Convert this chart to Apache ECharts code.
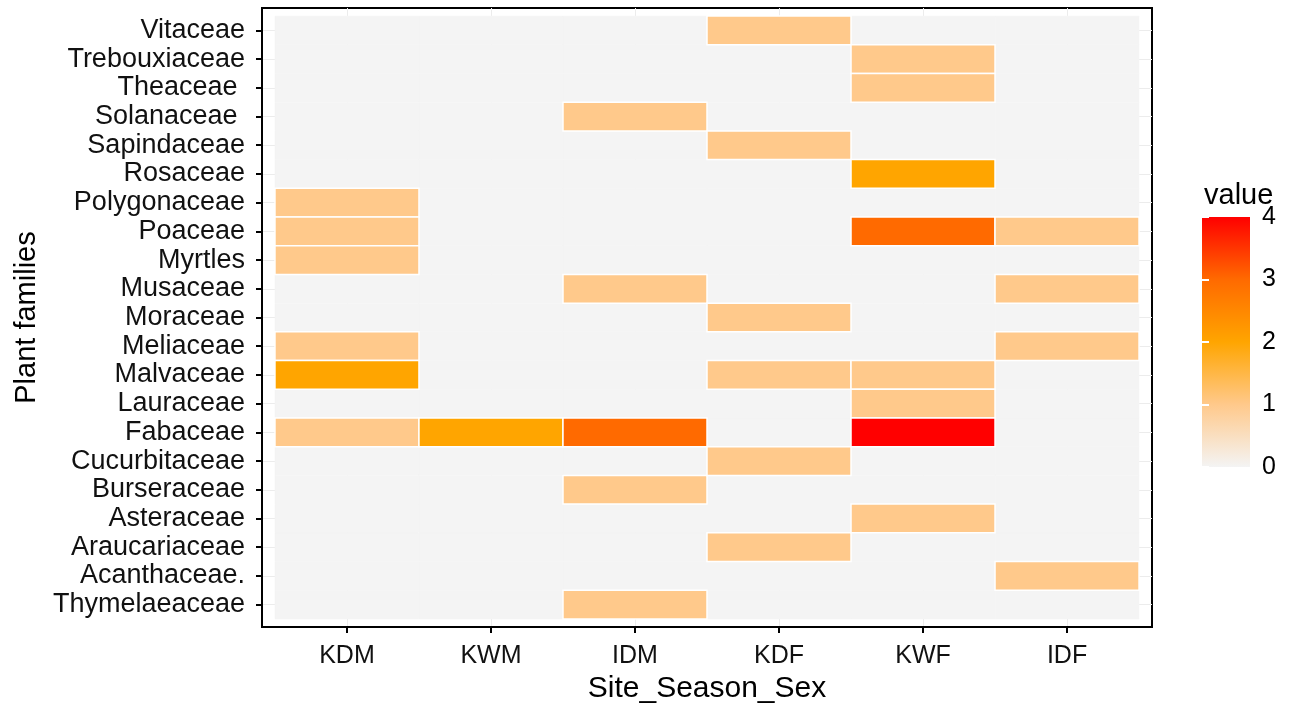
<!DOCTYPE html>
<html>
<head>
<meta charset="utf-8">
<script src="https://cdn.jsdelivr.net/npm/echarts@6/dist/echarts.min.js"></script>
<style>
html,body{margin:0;padding:0;background:#fff;}
#chart{width:1294px;height:709px;}
</style>
</head>
<body>
<div id="chart"></div>
<script>
// Data (rows listed top to bottom)
const sites = ['KDM', 'KWM', 'IDM', 'KDF', 'KWF', 'IDF'];
const families = ['Vitaceae', 'Trebouxiaceae', 'Theaceae ', 'Solanaceae ', 'Sapindaceae', 'Rosaceae',
  'Polygonaceae', 'Poaceae', 'Myrtles', 'Musaceae', 'Moraceae', 'Meliaceae', 'Malvaceae', 'Lauraceae',
  'Fabaceae', 'Cucurbitaceae', 'Burseraceae', 'Asteraceae', 'Araucariaceae', 'Acanthaceae.', 'Thymelaeaceae'];
const KDM = [0,0,0,0,0,0,1,1,1,0,0,1,2,0,1,0,0,0,0,0,0];
const KWM = [0,0,0,0,0,0,0,0,0,0,0,0,0,0,2,0,0,0,0,0,0];
const IDM = [0,0,0,1,0,0,0,0,0,1,0,0,0,0,3,0,1,0,0,0,1];
const KDF = [1,0,0,0,1,0,0,0,0,0,1,0,1,0,0,1,0,0,1,0,0];
const KWF = [0,1,1,0,0,2,0,3,0,0,0,0,1,1,4,0,0,1,0,0,0];
const IDF = [0,0,0,0,0,0,0,1,0,1,0,1,0,0,0,0,0,0,0,1,0];
const legendTicks = [0, 1, 2, 3, 4];
const palette = ['#f4f4f4', '#ffc98b', '#ffa500', '#ff6a00', '#ff0000'];

const columns = [KDM, KWM, IDM, KDF, KWF, IDF];
const cells = [];
columns.forEach((col, xi) => col.forEach((v, yi) => cells.push([xi, yi, v])));
// draw empty tiles first so coloured tiles sit on top
cells.sort((a, b) => (a[2] > 0) - (b[2] > 0));
const xIdx = sites.map((s, i) => i);
const yIdx = families.map((f, i) => i);

const chart = echarts.init(document.getElementById('chart'), null, {renderer: 'canvas'});
const labelFont = 'Liberation Sans, Arial, sans-serif';

const option = {
  animation: false,
  backgroundColor: '#ffffff',
  title: {
    text: 'value', left: 1199, top: 176,
    textStyle: {fontFamily: labelFont, fontSize: 29, fontWeight: 'normal', color: '#000'}
  },
  grid: [
    {left: 262, top: 8, width: 890, height: 619, show: true, backgroundColor: '#ffffff',
     borderColor: '#000', borderWidth: 2, containLabel: false, outerBoundsMode: 'none'},
    {left: 1202, top: 217, width: 48, height: 250, show: true, borderWidth: 0, outerBoundsMode: 'none',
     backgroundColor: {type: 'linear', x: 0, y: 1, x2: 0, y2: 0,
       colorStops: palette.map((c, i) => ({offset: i / (palette.length - 1), color: c}))}}
  ],
  xAxis: [
    {gridIndex: 0, type: 'value', min: -0.59, max: 5.59,
     name: 'Site_Season_Sex', nameLocation: 'middle', nameGap: 47,
     nameTextStyle: {fontFamily: labelFont, fontSize: 30, color: '#000'},
     axisLine: {show: true, onZero: false, lineStyle: {color: '#000', width: 2}},
     axisTick: {show: true, customValues: xIdx, length: 6, lineStyle: {color: '#000', width: 2}},
     axisLabel: {show: true, customValues: xIdx, margin: 17, formatter: v => sites[Math.round(v)],
       fontFamily: labelFont, fontSize: 25, color: '#111'},
     splitLine: {show: true, lineStyle: {color: '#ececec', width: 1}}},
    {gridIndex: 1, type: 'value', min: 0, max: 1, show: false}
  ],
  yAxis: [
    {gridIndex: 0, type: 'value', min: -0.78, max: 20.78, inverse: true,
     name: 'Plant families', nameLocation: 'middle', nameGap: 217, nameRotate: 90,
     nameTextStyle: {fontFamily: labelFont, fontSize: 29, color: '#000'},
     axisLine: {show: true, onZero: false, lineStyle: {color: '#000', width: 2}},
     axisTick: {show: true, customValues: yIdx, length: 6, lineStyle: {color: '#000', width: 2}},
     axisLabel: {show: true, customValues: yIdx, margin: 17, formatter: v => families[Math.round(v)],
       fontFamily: labelFont, fontSize: 27, color: '#111'},
     splitLine: {show: true, lineStyle: {color: '#ececec', width: 1}}},
    {gridIndex: 1, type: 'value', min: 0, max: 4, interval: 1, position: 'right',
     axisLine: {show: false},
     axisTick: {show: true, inside: true, length: 7, lineStyle: {color: '#ffffff', width: 2}},
     axisLabel: {show: true, margin: 12, fontFamily: labelFont, fontSize: 25, color: '#000',
       formatter: v => String(legendTicks[v])},
     splitLine: {show: false}},
    {gridIndex: 1, type: 'value', min: 0, max: 4, interval: 1, position: 'left',
     axisLine: {show: false},
     axisTick: {show: true, inside: true, length: 7, lineStyle: {color: '#ffffff', width: 2}},
     axisLabel: {show: false}, splitLine: {show: false}}
  ],
  visualMap: {
    show: false, type: 'continuous', min: 0, max: 4, dimension: 2, seriesIndex: 0,
    inRange: {color: palette}
  },
  series: [{
    type: 'custom',
    xAxisIndex: 0, yAxisIndex: 0,
    data: cells,
    encode: {x: 0, y: 1},
    renderItem: function (params, api) {
      const x = api.value(0), y = api.value(1), v = api.value(2);
      const p0 = api.coord([x - 0.5, y - 0.5]);
      const p1 = api.coord([x + 0.5, y + 0.5]);
      return {
        type: 'rect',
        shape: {x: Math.min(p0[0], p1[0]), y: Math.min(p0[1], p1[1]),
                width: Math.abs(p1[0] - p0[0]), height: Math.abs(p1[1] - p0[1])},
        style: v > 0
          ? {fill: api.visual('color'), stroke: '#ffffff', lineWidth: 1.5}
          : {fill: api.visual('color'), stroke: api.visual('color'), lineWidth: 0.5}
      };
    }
  }]
};
chart.setOption(option);
</script>
</body>
</html>
